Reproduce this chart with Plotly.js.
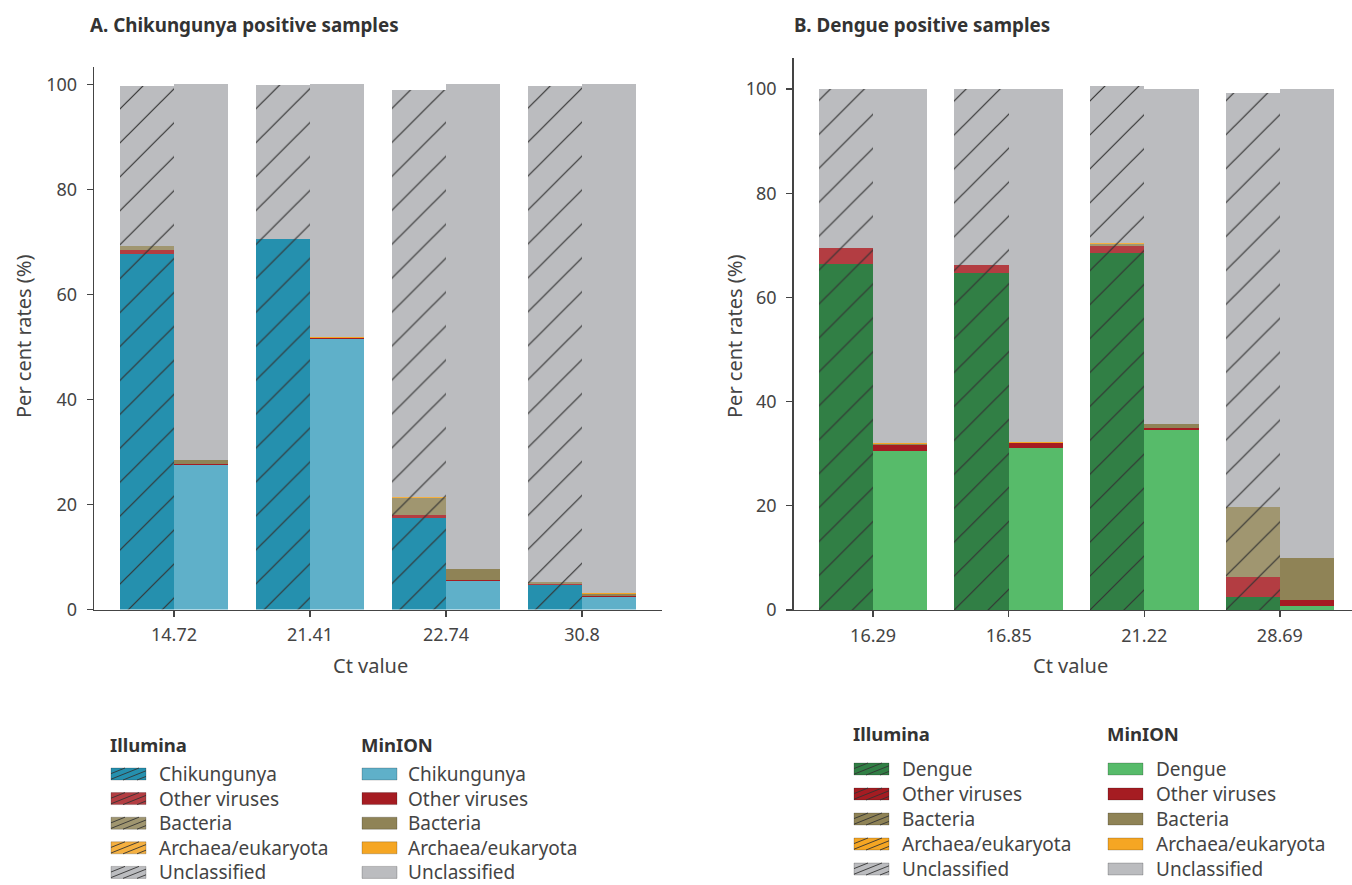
<!DOCTYPE html>
<html>
<head>
<meta charset="utf-8">
<script src="https://cdn.plot.ly/plotly-3.0.1.min.js"></script>
<style>
  html, body { margin: 0; padding: 0; background: #fff; }
  #chart { width: 1352px; height: 885px; }
</style>
</head>
<body>
<div id="chart"></div>
<script>
// ---- Panel A: Chikungunya positive samples (Ct values) ----
const chikCt = ['14.72', '21.41', '22.74', '30.8'];
const chikIlluminaTarget   = [67.8, 70.5, 17.5, 4.7];
const chikIlluminaOther    = [0.7, 0.05, 0.5, 0.2];
const chikIlluminaBacteria = [0.7, 0.05, 3.3, 0.35];
const chikIlluminaArchaea  = [0.1, 0.02, 0.1, 0.05];
const chikIlluminaUnclass  = [30.4, 29.2, 77.5, 94.4];
const chikMinionTarget     = [27.6, 51.6, 5.4, 2.3];
const chikMinionOther      = [0.2, 0.1, 0.3, 0.2];
const chikMinionBacteria   = [0.6, 0.1, 2.0, 0.5];
const chikMinionArchaea    = [0.1, 0.05, 0.1, 0.1];
const chikMinionUnclass    = [71.5, 48.15, 92.2, 96.9];

// ---- Panel B: Dengue positive samples (Ct values) ----
const dengCt = ['16.29', '16.85', '21.22', '28.69'];
const dengIlluminaTarget   = [66.5, 64.75, 68.6, 2.45];
const dengIlluminaOther    = [3.0, 1.5, 1.2, 3.9];
const dengIlluminaBacteria = [0.05, 0.05, 0.5, 13.45];
const dengIlluminaArchaea  = [0, 0, 0.05, 0];
const dengIlluminaUnclass  = [30.45, 33.7, 30.25, 79.4];
const dengMinionTarget     = [30.45, 31.1, 34.55, 0.8];
const dengMinionOther      = [1.25, 0.9, 0.3, 1.15];
const dengMinionBacteria   = [0.2, 0.15, 0.8, 8.0];
const dengMinionArchaea    = [0.1, 0.05, 0.1, 0.1];
const dengMinionUnclass    = [68.0, 67.8, 64.25, 89.95];

const yTicks = [0, 20, 40, 60, 80, 100];
const platformNames = ['Illumina', 'MinION'];
const classNamesA = ['Chikungunya', 'Other viruses', 'Bacteria', 'Archaea/eukaryota', 'Unclassified'];
const classNamesB = ['Dengue', 'Other viruses', 'Bacteria', 'Archaea/eukaryota', 'Unclassified'];

// colours
const colIllA = ['#2590ae', '#b33d42', '#a09670', '#f5b040', '#bbbcbf'];
const colMinA = ['#5fb0c9', '#a51c22', '#8f8356', '#f5a623', '#bbbcbf'];
const colIllB = ['#317f45', '#b33d42', '#a09670', '#f5b040', '#bbbcbf'];
const colMinB = ['#57bb6a', '#a51c22', '#8f8356', '#f5a623', '#bbbcbf'];
const legIllB = ['#317f45', '#a51c22', '#8f8356', '#f5a623', '#bbbcbf'];

const W = 1352, H = 885;
const FONT = '"Noto Sans", "Open Sans", sans-serif';
const TXT = '#444';
const px = x => x / W;
const py = y => 1 - y / H;

function stackTraces(cats, series, colors, names, xa, ya, shift, hatched) {
  const idx = cats.map((_, i) => i + shift);
  return series.map((vals, k) => ({
    type: 'bar',
    x: idx,
    y: vals,
    width: 0.4,
    xaxis: xa,
    yaxis: ya,
    name: names[k],
    showlegend: false,
    hoverinfo: 'y+name',
    marker: Object.assign(
      { color: colors[k], line: { width: 0 } },
      hatched ? { pattern: { shape: '/', fillmode: 'overlay', bgcolor: colors[k],
                              fgcolor: '#333', fgopacity: 1, size: 24, solidity: 0.05 } } : {}
    )
  }));
}

const traces = [].concat(
  stackTraces(chikCt,
    [chikIlluminaTarget, chikIlluminaOther, chikIlluminaBacteria, chikIlluminaArchaea, chikIlluminaUnclass],
    colIllA, classNamesA, 'x', 'y', -0.2, true),
  stackTraces(chikCt,
    [chikMinionTarget, chikMinionOther, chikMinionBacteria, chikMinionArchaea, chikMinionUnclass],
    colMinA, classNamesA, 'x', 'y', 0.2, false),
  stackTraces(dengCt,
    [dengIlluminaTarget, dengIlluminaOther, dengIlluminaBacteria, dengIlluminaArchaea, dengIlluminaUnclass],
    colIllB, classNamesB, 'x2', 'y2', -0.2, true),
  stackTraces(dengCt,
    [dengMinionTarget, dengMinionOther, dengMinionBacteria, dengMinionArchaea, dengMinionUnclass],
    colMinB, classNamesB, 'x2', 'y2', 0.2, false)
);

function xAxis(cats, domain, range) {
  return {
    domain: domain, range: range, fixedrange: true,
    tickmode: 'array', tickvals: cats.map((_, i) => i), ticktext: cats,
    showline: true, linecolor: '#444', linewidth: 1.3,
    ticks: 'outside', ticklen: 6, tickcolor: '#444', tickwidth: 1.3,
    showgrid: false, zeroline: false,
    tickfont: { family: FONT, size: 18, color: TXT },
    ticklabelstandoff: 3
  };
}
function yAxis(domain, range, anchor) {
  return {
    domain: domain, range: range, fixedrange: true, anchor: anchor,
    tickmode: 'array', tickvals: yTicks,
    showline: true, linecolor: '#444', linewidth: 1.3,
    ticks: 'outside', ticklen: 6, tickcolor: '#444', tickwidth: 1.3,
    showgrid: false, zeroline: false,
    tickfont: { family: FONT, size: 18, color: TXT },
    ticklabelstandoff: 6
  };
}

const annotations = [];
const shapes = [];
function text(str, x, y, opts) {
  annotations.push(Object.assign({
    text: str, xref: 'paper', yref: 'paper', x: px(x), y: py(y),
    showarrow: false, xanchor: 'left', yanchor: 'middle',
    font: { family: FONT, size: 19, color: TXT }
  }, opts || {}));
}

// titles
text('<b>A. Chikungunya positive samples</b>', 88, 25, { font: { family: FONT, size: 18.8, color: '#333' } });
text('<b>B. Dengue positive samples</b>', 792, 25, { font: { family: FONT, size: 18.8, color: '#333' } });
// axis titles
text('Per cent rates (%)', 23, 337, { textangle: -90, xanchor: 'center', font: { family: FONT, size: 20, color: TXT } });
text('Per cent rates (%)', 734, 337, { textangle: -90, xanchor: 'center', font: { family: FONT, size: 20, color: TXT } });
text('Ct value', 370, 665, { xanchor: 'center', font: { family: FONT, size: 20, color: TXT } });
text('Ct value', 1070, 665, { xanchor: 'center', font: { family: FONT, size: 20, color: TXT } });

// legend blocks: swatch rectangle (optionally hatched) and label
function hatchLines(x0, y0, x1, y1) {
  const k = 0.4, h = y1 - y0;
  for (let c = x0 - h / k; c < x1; c += 14) {
    let xa = c, ya = y1, xb = c + h / k, yb = y0;
    if (xa < x0) { ya = y1 - (x0 - c) * k; xa = x0; }
    if (xb > x1) { yb = y1 - (x1 - c) * k; xb = x1; }
    if (xb - xa < 1) continue;
    shapes.push({ type: 'line', xref: 'paper', yref: 'paper',
      x0: px(xa), y0: py(ya), x1: px(xb), y1: py(yb),
      line: { color: '#333', width: 0.9 } });
  }
}
function legendBlock(title, names, colors, hatched, sx, tx, titleY, rowY, rowStep) {
  text('<b>' + title + '</b>', sx - 3, titleY, { font: { family: FONT, size: 18.5, color: '#333' } });
  names.forEach((n, i) => {
    const cy = rowY + i * rowStep;
    const x0 = sx, x1 = sx + 35, y0 = cy - 6, y1 = cy + 6;
    shapes.push({ type: 'rect', xref: 'paper', yref: 'paper',
      x0: px(x0), x1: px(x1), y0: py(y1), y1: py(y0),
      fillcolor: colors[i], line: { width: 0.8, color: 'rgba(0,0,0,0.25)' } });
    if (hatched) hatchLines(x0, y0, x1, y1);
    text(n, tx, cy);
  });
}
legendBlock(platformNames[0], classNamesA, colIllA, true, 111, 157, 744, 774, 24.6);
legendBlock(platformNames[1], classNamesA, colMinA, false, 362, 406, 744, 774, 24.6);
legendBlock(platformNames[0], classNamesB, legIllB, true, 854, 900, 733, 769, 25);
legendBlock(platformNames[1], classNamesB, colMinB, false, 1108, 1154, 733, 769, 25);

const layout = {
  width: W, height: H,
  margin: { l: 0, r: 0, t: 0, b: 0 },
  paper_bgcolor: '#fff', plot_bgcolor: '#fff',
  barmode: 'stack',
  showlegend: false,
  font: { family: FONT, color: TXT },
  xaxis: Object.assign(xAxis(chikCt, [px(94), px(662)], [-0.588, 3.588]), { anchor: 'y' }),
  yaxis: yAxis([py(609.5), py(67)], [0, 103.33], 'x'),
  xaxis2: Object.assign(xAxis(dengCt, [px(793.5), 1], [-0.587, 3.532]), { anchor: 'y2' }),
  yaxis2: yAxis([py(610), py(58)], [0, 105.95], 'x2'),
  annotations: annotations,
  shapes: shapes
};

Plotly.newPlot('chart', traces, layout, { staticPlot: true, displayModeBar: false });
</script>
</body>
</html>
